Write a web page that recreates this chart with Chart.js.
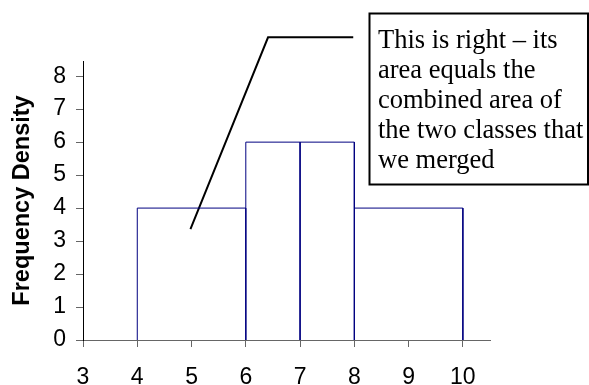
<!DOCTYPE html>
<html>
<head>
<meta charset="utf-8">
<script src="https://cdn.jsdelivr.net/npm/chart.js@4.4.0/dist/chart.umd.min.js"></script>
<style>
  html, body { margin: 0; padding: 0; background: #fff; }
  #wrap { width: 589px; height: 385px; }
</style>
</head>
<body>
<div id="wrap"><canvas id="hist" width="589" height="385"></canvas></div>
<script>
// classes after merging
var classStart = [4, 6, 7, 8];
var classEnd = [6, 7, 8, 10];
var freqDensity = [4, 6, 6, 4];

var xTicks = [3, 4, 5, 6, 7, 8, 9, 10];
var yTicks = [0, 1, 2, 3, 4, 5, 6, 7, 8];

// callout pointer line (data coords) and text box
var pointerX = [4.98, 6.41, 7.98];
var pointerY = [3.36, 9.18, 9.18];
var calloutLines = [
  'This is right \u2013 its',
  'area equals the',
  'combined area of',
  'the two classes that',
  'we merged'
];

var barColor = '#000080';

// one outline per class; a shared edge is only drawn once
var datasets = [];
for (var i = 0; i < classStart.length; i++) {
  var startY = 0;
  if (i > 0 && classEnd[i - 1] === classStart[i]) {
    startY = Math.min(freqDensity[i], freqDensity[i - 1]);
  }
  datasets.push({
    data: [
      {x: classStart[i], y: startY},
      {x: classStart[i], y: freqDensity[i]},
      {x: classEnd[i], y: freqDensity[i]},
      {x: classEnd[i], y: 0}
    ],
    showLine: true,
    borderColor: barColor,
    borderWidth: 1,
    pointRadius: 0,
    fill: false,
    tension: 0
  });
}

var pointer = [];
for (var j = 0; j < pointerX.length; j++) pointer.push({x: pointerX[j], y: pointerY[j]});
datasets.push({
  data: pointer,
  showLine: true,
  borderColor: '#000',
  borderWidth: 2,
  pointRadius: 0,
  clip: false,
  tension: 0
});

var calloutBox = {
  id: 'calloutBox',
  afterDatasetsDraw: function (chart) {
    var ctx = chart.ctx;
    var xs = chart.scales.x, ys = chart.scales.y;
    var left = Math.round(xs.getPixelForValue(8.27)) + 0.5;
    var top = Math.round(ys.getPixelForValue(9.93)) + 0.5;
    var bottom = Math.round(ys.getPixelForValue(4.73)) + 0.5;
    var right = 588;
    ctx.save();
    ctx.fillStyle = '#fff';
    ctx.fillRect(left, top, right - left, bottom - top);
    ctx.strokeStyle = '#000';
    ctx.lineWidth = 2;
    ctx.strokeRect(left, top, right - left, bottom - top);
    ctx.fillStyle = '#000';
    ctx.font = '26.5px "Liberation Serif", "Times New Roman", serif';
    ctx.textBaseline = 'alphabetic';
    for (var k = 0; k < calloutLines.length; k++) {
      ctx.fillText(calloutLines[k], left + 8.5, top + 34 + k * 30.2);
    }
    ctx.restore();
  }
};

function keepTicks(list) {
  return function (scale) {
    scale.ticks = list.map(function (v) { return {value: v}; });
  };
}

new Chart(document.getElementById('hist'), {
  type: 'scatter',
  data: { datasets: datasets },
  plugins: [calloutBox],
  options: {
    responsive: false,
    animation: false,
    layout: { padding: { top: 61, right: 99, left: 0, bottom: 0 } },
    plugins: { legend: { display: false }, tooltip: { enabled: false } },
    scales: {
      x: {
        type: 'linear',
        min: 3,
        max: 10.5,
        afterBuildTicks: keepTicks(xTicks),
        afterFit: function (scale) { scale.height = 45; },
        grid: { drawOnChartArea: false, drawTicks: true, tickLength: 7, color: '#666' },
        border: { color: '#666', width: 1 },
        ticks: {
          color: '#000',
          padding: 17,
          font: { family: '"Liberation Sans", Arial, sans-serif', size: 23 }
        }
      },
      y: {
        type: 'linear',
        min: 0,
        max: 8.46,
        afterBuildTicks: keepTicks(yTicks),
        afterFit: function (scale) { scale.width = 83; },
        grid: { drawOnChartArea: false, drawTicks: true, tickLength: 7, color: '#666' },
        border: { color: '#000', width: 1 },
        ticks: {
          color: '#000',
          padding: 10,
          font: { family: '"Liberation Sans", Arial, sans-serif', size: 23 }
        },
        title: {
          display: true,
          text: 'Frequency Density',
          color: '#000',
          padding: { top: 8, bottom: 0 },
          font: { family: '"Liberation Sans", Arial, sans-serif', size: 23.5, weight: 'bold' }
        }
      }
    }
  }
});
</script>
</body>
</html>
